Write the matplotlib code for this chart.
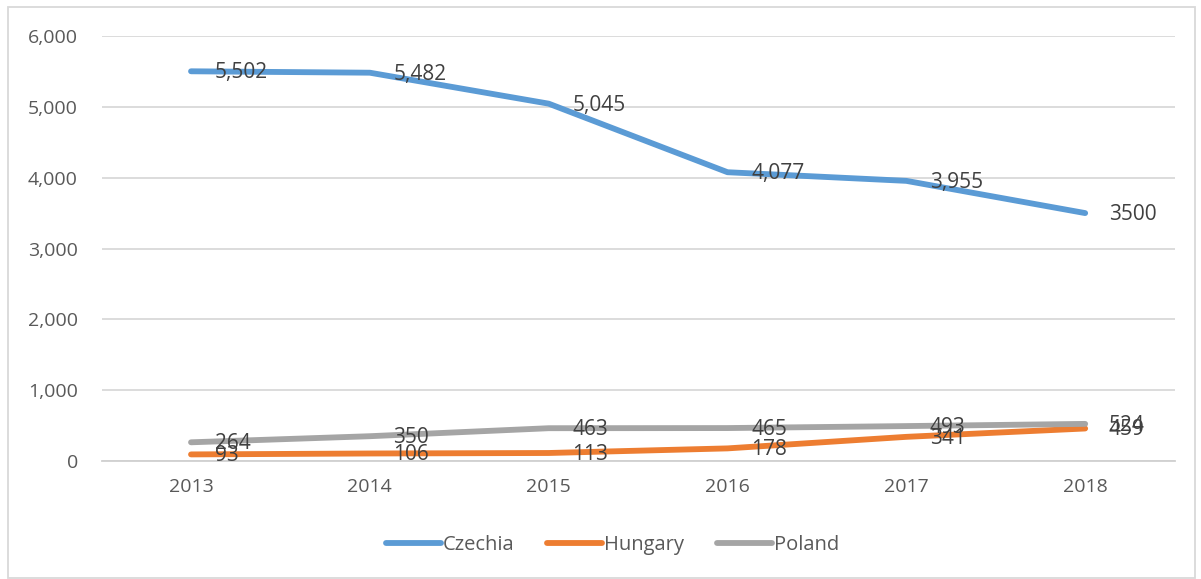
"""Recreates the Czechia / Hungary / Poland line chart as out.png."""

import matplotlib

matplotlib.use("Agg")
import matplotlib.pyplot as plt
from matplotlib.patches import Rectangle
from matplotlib.ticker import FuncFormatter

years = ["2013", "2014", "2015", "2016", "2017", "2018"]
czechia = [5502, 5482, 5045, 4077, 3955, 3500]
hungary = [93, 106, 113, 178, 341, 459]
poland = [264, 350, 463, 465, 493, 524]
czechia_labels = ["5,502", "5,482", "5,045", "4,077", "3,955", "3500"]
hungary_labels = ["93", "106", "113", "178", "341", "459"]
poland_labels = ["264", "350", "463", "465", "493", "524"]

plt.rcParams["font.family"] = ["Open Sans", "DejaVu Sans"]

fig = plt.figure(figsize=(12.01, 5.79), dpi=100)
ax = fig.add_axes([0.0846, 0.2038, 0.8934, 0.734])

x = list(range(len(years)))
series = [
    ("Czechia", czechia, czechia_labels, "#5B9BD5"),
    ("Hungary", hungary, hungary_labels, "#ED7D31"),
    ("Poland", poland, poland_labels, "#A5A5A5"),
]
for name, values, labels, color in series:
    ax.plot(x, values, color=color, linewidth=4.2, solid_capstyle="round", label=name, zorder=3)
for name, values, labels, color in series:
    for xi, v, lab in zip(x, values, labels):
        ax.annotate(lab, (xi, v), xytext=(17, -1), textcoords="offset points",
                    ha="left", va="center", fontsize=15, color="#404040", zorder=4)

ax.set_xlim(-0.5, len(years) - 0.5)
ax.set_ylim(0, 6000)
ax.set_yticks(range(0, 6001, 1000))
ax.yaxis.set_major_formatter(FuncFormatter(lambda v, _: f"{int(v):,}"))
ax.set_xticks(x)
ax.set_xticklabels(years)
ax.tick_params(length=0, labelsize=14, labelcolor="#595959")
ax.tick_params(axis="y", pad=17)
ax.tick_params(axis="x", pad=12)
ax.grid(axis="y", color="#D9D9D9", linewidth=1.3)
ax.set_axisbelow(True)
for side in ["top", "right", "left"]:
    ax.spines[side].set_visible(False)
ax.spines["bottom"].set_color("#D0D0D0")
ax.spines["bottom"].set_linewidth(1.3)

leg = fig.legend(loc="center", bbox_to_anchor=(0.51, 0.058), ncol=3, frameon=False,
                 fontsize=14.5, handlelength=2.75, handletextpad=0.1, columnspacing=1.6)
for t in leg.get_texts():
    t.set_color("#595959")

fig.patches.append(Rectangle((8 / 1201, 0.002), 1187 / 1201, 1 - 7 / 579 - 0.002,
                             transform=fig.transFigure, fill=False,
                             edgecolor="#D9D9D9", linewidth=1.3))

fig.savefig("out.png", dpi=100)
